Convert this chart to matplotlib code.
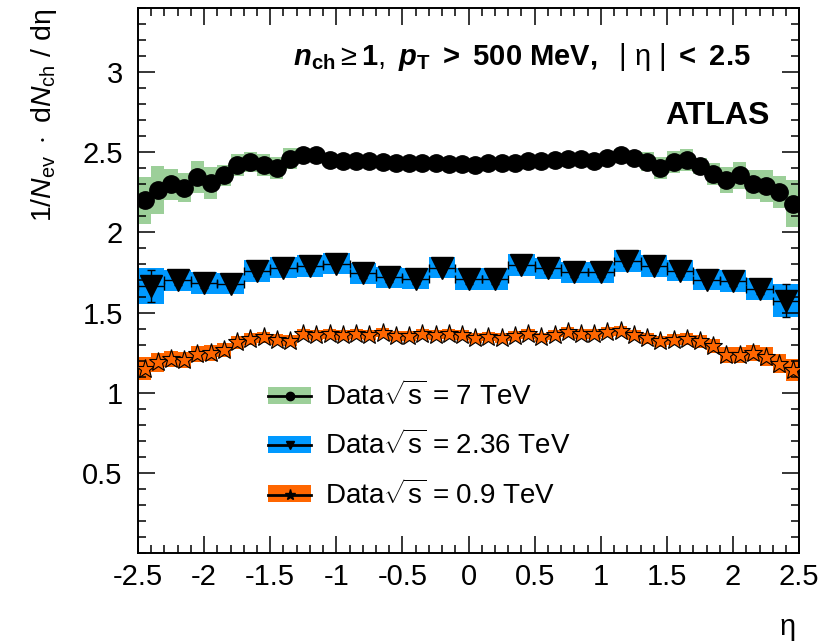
import numpy as np
import matplotlib
matplotlib.use("Agg")
from matplotlib import pyplot as plt
from matplotlib.ticker import MultipleLocator, FixedLocator, FormatStrFormatter
from matplotlib.patches import Patch
from matplotlib.lines import Line2D

plt.rcParams['font.family'] = ['Liberation Sans', 'DejaVu Sans']
plt.rcParams['mathtext.fontset'] = 'custom'
plt.rcParams['mathtext.rm'] = 'Liberation Sans'
plt.rcParams['mathtext.it'] = 'Liberation Sans:italic'
plt.rcParams['mathtext.bf'] = 'Liberation Sans:bold'
plt.rcParams['mathtext.bfit'] = 'Liberation Sans:italic:bold'
plt.rcParams['mathtext.sf'] = 'Liberation Sans'
plt.rcParams['axes.unicode_minus'] = False

# eta bin centres (0.1 wide bins for 7 and 0.9 TeV, 0.2 wide for 2.36 TeV)
eta_fine = [-2.45, -2.35, -2.25, -2.15, -2.05, -1.95, -1.85, -1.75, -1.65, -1.55,
            -1.45, -1.35, -1.25, -1.15, -1.05, -0.95, -0.85, -0.75, -0.65, -0.55,
            -0.45, -0.35, -0.25, -0.15, -0.05, 0.05, 0.15, 0.25, 0.35, 0.45,
            0.55, 0.65, 0.75, 0.85, 0.95, 1.05, 1.15, 1.25, 1.35, 1.45,
            1.55, 1.65, 1.75, 1.85, 1.95, 2.05, 2.15, 2.25, 2.35, 2.45]
eta_coarse = [-2.4, -2.2, -2.0, -1.8, -1.6, -1.4, -1.2, -1.0, -0.8, -0.6,
              -0.4, -0.2, 0.0, 0.2, 0.4, 0.6, 0.8, 1.0, 1.2, 1.4,
              1.6, 1.8, 2.0, 2.2, 2.4]

# sqrt(s) = 7 TeV
dn_7 = [2.20, 2.265, 2.30, 2.28, 2.345, 2.31, 2.355, 2.42, 2.44, 2.42,
        2.40, 2.46, 2.485, 2.485, 2.45, 2.445, 2.445, 2.445, 2.44, 2.435,
        2.435, 2.43, 2.43, 2.425, 2.425, 2.42, 2.43, 2.435, 2.435, 2.445,
        2.445, 2.45, 2.455, 2.455, 2.445, 2.465, 2.485, 2.465, 2.44, 2.40,
        2.44, 2.45, 2.415, 2.365, 2.325, 2.355, 2.30, 2.29, 2.25, 2.18]
syst_7 = [0.145, 0.15, 0.095, 0.09, 0.10, 0.10, 0.065, 0.068, 0.062, 0.068,
          0.07, 0.065, 0.04, 0.035, 0.03, 0.03, 0.03, 0.03, 0.03, 0.03,
          0.03, 0.03, 0.03, 0.03, 0.03, 0.03, 0.03, 0.03, 0.03, 0.03,
          0.03, 0.03, 0.03, 0.03, 0.03, 0.03, 0.035, 0.04, 0.06, 0.068,
          0.07, 0.07, 0.05, 0.07, 0.08, 0.085, 0.09, 0.10, 0.10, 0.145]

# sqrt(s) = 2.36 TeV
dn_236 = [1.665, 1.70, 1.685, 1.68, 1.76, 1.78, 1.79, 1.805, 1.745, 1.72,
          1.71, 1.78, 1.71, 1.71, 1.795, 1.775, 1.75, 1.75, 1.82, 1.79,
          1.76, 1.705, 1.695, 1.645, 1.575]
syst_236 = [0.11, 0.068, 0.068, 0.065, 0.068, 0.065, 0.068, 0.065, 0.065, 0.065,
            0.065, 0.065, 0.068, 0.068, 0.068, 0.068, 0.065, 0.065, 0.068, 0.068,
            0.065, 0.065, 0.068, 0.068, 0.10]
stat_236 = [0.10, 0.03, 0.03, 0.03, 0.03, 0.03, 0.03, 0.03, 0.03, 0.03,
            0.03, 0.03, 0.03, 0.03, 0.03, 0.03, 0.03, 0.03, 0.03, 0.03,
            0.03, 0.03, 0.03, 0.03, 0.10]

# sqrt(s) = 0.9 TeV
dn_09 = [1.15, 1.19, 1.21, 1.205, 1.24, 1.25, 1.265, 1.315, 1.335, 1.345,
         1.33, 1.325, 1.365, 1.36, 1.365, 1.36, 1.365, 1.36, 1.375, 1.355,
         1.355, 1.365, 1.36, 1.365, 1.36, 1.34, 1.35, 1.34, 1.355, 1.365,
         1.345, 1.36, 1.38, 1.365, 1.365, 1.38, 1.385, 1.36, 1.34, 1.32,
         1.33, 1.335, 1.32, 1.29, 1.235, 1.235, 1.25, 1.225, 1.18, 1.14]
syst_09 = [0.07, 0.06, 0.05, 0.05, 0.05, 0.05, 0.045, 0.04, 0.035, 0.035,
           0.035, 0.035, 0.03, 0.03, 0.03, 0.03, 0.03, 0.03, 0.03, 0.03,
           0.03, 0.03, 0.03, 0.03, 0.03, 0.03, 0.03, 0.03, 0.03, 0.03,
           0.03, 0.03, 0.03, 0.03, 0.03, 0.03, 0.03, 0.03, 0.035, 0.035,
           0.035, 0.035, 0.04, 0.045, 0.05, 0.05, 0.05, 0.06, 0.06, 0.07]

labels = [r"Data$\sqrt{\mathrm{s}}$ = 7 TeV",
          r"Data$\sqrt{\mathrm{s}}$ = 2.36 TeV",
          r"Data$\sqrt{\mathrm{s}}$ = 0.9 TeV"]

green = '#9ccf99'
blue = '#0099ff'
orange = '#ff6600'

fig = plt.figure(figsize=(8.36, 6.43), dpi=100)
ax = fig.add_axes([0.165, 0.14, 0.791, 0.8476])

d7 = np.array(dn_7)
s7 = np.array(syst_7)
d2 = np.array(dn_236)
s2 = np.array(syst_236)
d9 = np.array(dn_09)
s9 = np.array(syst_09)

# systematic bands
ax.bar(eta_fine, 2 * s7, bottom=d7 - s7, width=0.1, color=green, linewidth=0, zorder=1)
ax.bar(eta_coarse, 2 * s2, bottom=d2 - s2, width=0.2, color=blue, linewidth=0, zorder=1)
ax.bar(eta_fine, 2 * s9, bottom=d9 - s9, width=0.1, color=orange, linewidth=0, zorder=1)

# data points
ax.plot(eta_fine, dn_7, 'o', color='black', markersize=12.5, zorder=3)
ax.errorbar(eta_coarse, dn_236, xerr=0.1, yerr=stat_236, fmt='none', ecolor='black',
            elinewidth=1.0, capsize=3, capthick=1.0, zorder=2)
ax.plot(eta_coarse, dn_236, 'v', color='black', markersize=16, zorder=3)
ax.plot(eta_fine, dn_09, '*', markerfacecolor=orange, markeredgecolor='black',
        markeredgewidth=0.8, markersize=14, linestyle='none', zorder=3)

ax.set_xlim(-2.5, 2.5)
ax.set_ylim(0, 3.4)
ax.xaxis.set_major_locator(MultipleLocator(0.5))
ax.xaxis.set_minor_locator(MultipleLocator(0.1))
ax.xaxis.set_major_formatter(FormatStrFormatter('%g'))
ax.yaxis.set_major_locator(FixedLocator([0.5, 1.0, 1.5, 2.0, 2.5, 3.0]))
ax.yaxis.set_minor_locator(MultipleLocator(0.1))
ax.yaxis.set_major_formatter(FormatStrFormatter('%g'))
ax.tick_params(which='both', direction='in', top=True, right=True, width=1.1,
               labelsize=21)
ax.tick_params(which='major', length=12)
ax.tick_params(which='minor', length=6)
ax.tick_params(axis='x', pad=7)
ax.tick_params(axis='y', pad=11)
for sp in ax.spines.values():
    sp.set_linewidth(1.4)

ax.set_ylabel(r"$1/\mathit{N}_{\mathrm{ev}}\ \cdot\ \mathrm{d}\mathit{N}_{\mathrm{ch}}\ /\ \mathrm{dη}$",
              fontsize=20.5, loc='top')
ax.yaxis.set_label_coords(-0.12, 0.998)
ax.set_xlabel("η", fontsize=21, loc='right', va='top')
ax.xaxis.set_label_coords(0.995, -0.11)

ax.text(0.926, 0.895,
        r"$\mathbfit{n}_{\mathbf{ch}}\geq\mathbf{1},\ \mathbfit{p}_{\mathbf{T}}\ \mathbf{>\ 500\ MeV,}\ \ |\ \mathrm{η}\ |\ \mathbf{<\ 2.5}$",
        transform=ax.transAxes, ha='right', va='baseline', fontsize=21)
ax.text(0.955, 0.787, "ATLAS", transform=ax.transAxes, ha='right', va='baseline',
        fontsize=23, fontweight='bold')

handles = [
    (Patch(facecolor=green, linewidth=0), Line2D([], [], color='black', lw=2, marker='o', markersize=6)),
    (Patch(facecolor=blue, linewidth=0), Line2D([], [], color='black', lw=2, marker='v', markersize=6)),
    (Patch(facecolor=orange, linewidth=0), Line2D([], [], color='black', lw=2, marker='*', markersize=8)),
]
ax.legend(handles, labels, loc='upper left', bbox_to_anchor=(0.197, 0.315),
          frameon=False, fontsize=20, handlelength=1.55, handleheight=0.55,
          handletextpad=0.5, labelspacing=0.7, borderpad=0, borderaxespad=0)

fig.savefig('out.png', dpi=100)
